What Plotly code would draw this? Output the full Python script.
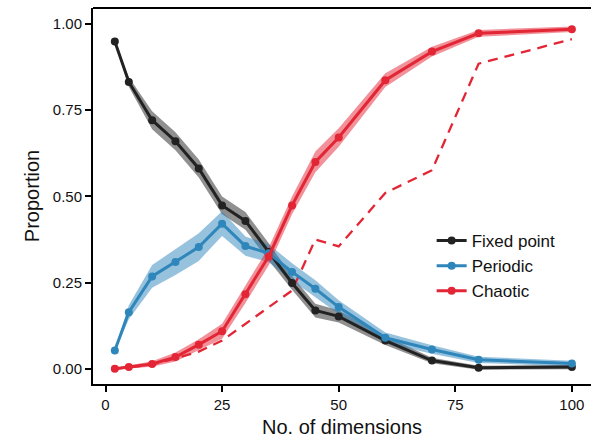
import plotly.graph_objects as go

# Number of dimensions at which the systems were sampled
dims = [2, 5, 10, 15, 20, 25, 30, 35, 40, 45, 50, 60, 70, 80, 100]

# Proportion of systems in each dynamical regime
fixed_point = [0.949, 0.832, 0.721, 0.660, 0.581, 0.474, 0.429, 0.339, 0.249, 0.169, 0.152, 0.082, 0.024, 0.003, 0.005]
periodic = [0.053, 0.164, 0.268, 0.310, 0.353, 0.421, 0.356, 0.335, 0.281, 0.232, 0.179, 0.090, 0.056, 0.026, 0.015]
chaotic = [0.000, 0.005, 0.014, 0.034, 0.070, 0.109, 0.216, 0.326, 0.474, 0.600, 0.671, 0.837, 0.920, 0.973, 0.985]

# Half-widths of the uncertainty bands
fixed_point_err = [0.002, 0.014, 0.026, 0.026, 0.026, 0.026, 0.026, 0.025, 0.020, 0.020, 0.018, 0.013, 0.008, 0.006, 0.006]
periodic_err = [0.003, 0.020, 0.033, 0.038, 0.040, 0.036, 0.028, 0.026, 0.025, 0.025, 0.020, 0.015, 0.012, 0.009, 0.008]
chaotic_err = [0.002, 0.004, 0.008, 0.013, 0.016, 0.022, 0.025, 0.026, 0.026, 0.030, 0.027, 0.020, 0.014, 0.010, 0.008]

# Reference curve for the chaotic fraction (dashed)
chaotic_ref = [0.000, 0.005, 0.012, 0.030, 0.050, 0.082, 0.130, 0.178, 0.227, 0.375, 0.355, 0.510, 0.576, 0.885, 0.956]

tick_x = [0, 25, 50, 75, 100]
tick_y = [0.0, 0.25, 0.5, 0.75, 1.0]
tick_y_text = ["0.00", "0.25", "0.50", "0.75", "1.00"]

series = [
    ("Fixed point", fixed_point, fixed_point_err, "#222222", "rgba(34,34,34,0.5)"),
    ("Periodic", periodic, periodic_err, "#2f86bb", "rgba(47,134,187,0.5)"),
    ("Chaotic", chaotic, chaotic_err, "#e32636", "rgba(227,38,54,0.5)"),
]

FONT = "Liberation Sans, Arial, sans-serif"

fig = go.Figure()

for name, vals, err, color, band in series:
    upper = [v + e for v, e in zip(vals, err)]
    lower = [v - e for v, e in zip(vals, err)]
    fig.add_trace(go.Scatter(
        x=dims + dims[::-1],
        y=upper + lower[::-1],
        fill="toself",
        fillcolor=band,
        line=dict(width=0),
        mode="lines",
        hoverinfo="skip",
        showlegend=False,
    ))

fig.add_trace(go.Scatter(
    x=dims, y=chaotic_ref, mode="lines",
    line=dict(color="#e32636", width=2.3, dash="10px,7px"),
    showlegend=False,
))

for name, vals, err, color, band in series:
    fig.add_trace(go.Scatter(
        x=dims, y=vals, mode="lines+markers", name=name,
        line=dict(color=color, width=3),
        marker=dict(color=color, size=8),
    ))

fig.update_layout(
    width=591, height=442,
    margin=dict(l=93, r=0, t=8, b=58),
    plot_bgcolor="white", paper_bgcolor="white",
    font=dict(family=FONT, color="#111111"),
    legend=dict(
        x=0.68, y=0.428, xanchor="left", yanchor="top",
        font=dict(size=17, family=FONT),
        bgcolor="rgba(0,0,0,0)",
        tracegroupgap=0,
    ),
    shapes=[dict(type="line", xref="paper", yref="paper", x0=0, x1=1, y0=1, y1=1,
                 line=dict(color="black", width=2))],
)

fig.update_xaxes(
    range=[-2.68, 104.1],
    tickvals=tick_x,
    ticks="outside", ticklen=6, tickwidth=1.5, tickcolor="black",
    showline=True, linecolor="black", linewidth=2,
    showgrid=False, zeroline=False,
    tickfont=dict(size=15, family=FONT),
    title=dict(text="No. of dimensions", font=dict(size=20, family=FONT), standoff=8),
)
fig.update_yaxes(
    range=[-0.0441, 1.0465],
    tickvals=tick_y, ticktext=tick_y_text,
    ticks="outside", ticklen=6, tickwidth=1.5, tickcolor="black",
    showline=True, linecolor="black", linewidth=2,
    showgrid=False, zeroline=False,
    tickfont=dict(size=15, family=FONT),
    title=dict(text="Proportion", font=dict(size=20, family=FONT), standoff=8),
)

fig.write_html("out.html")
